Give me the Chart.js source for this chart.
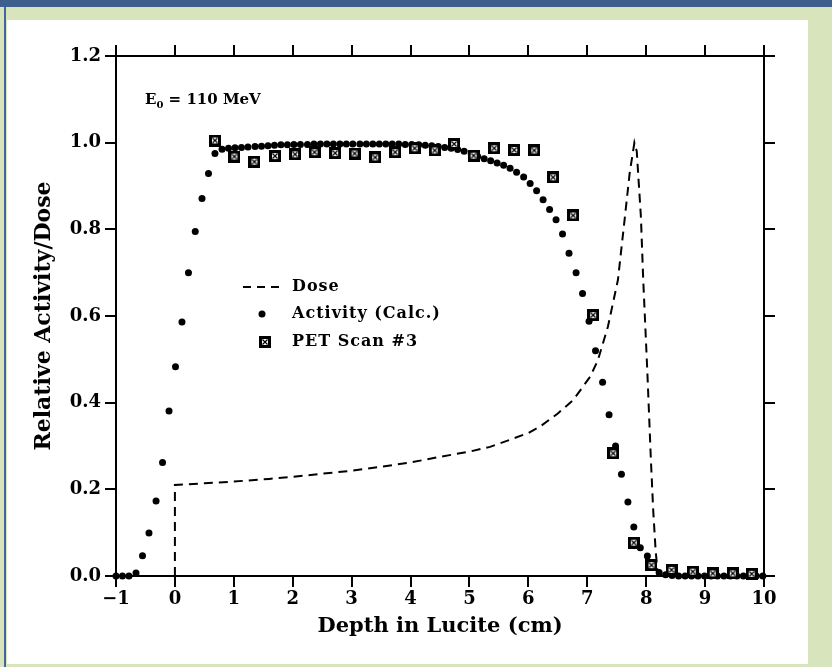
<!DOCTYPE html>
<html>
<head>
<meta charset="utf-8">
<script src="https://cdn.jsdelivr.net/npm/chart.js@4.4.0/dist/chart.umd.min.js"></script>
<style>
  html, body { margin: 0; padding: 0; }
  body { width: 832px; height: 667px; background: #d8e4bc; position: relative; overflow: hidden; }
  .topBar { position: absolute; left: 0; top: 0; width: 832px; height: 7px; background: #3d5f8e; }
  .sideLine { position: absolute; left: 4px; top: 7px; width: 2px; height: 660px; background: #4466a0; }
  .sheet { position: absolute; left: 7px; top: 20px; width: 801px; height: 644px; background: #fff; }
  #chart { position: absolute; left: 0; top: 0; }
</style>
</head>
<body>
<div class="topBar"></div>
<div class="sideLine"></div>
<div class="sheet"></div>
<canvas id="chart" width="832" height="667"></canvas>
<script>
// dose profile (dashed)
const doseDepth = [0, 0, 0.5, 1.0, 1.6, 2.0, 2.5, 3.0, 3.5, 4.0, 4.5, 5.0, 5.35, 5.7, 6.0, 6.2, 6.5, 6.76,
  7.05, 7.18, 7.35, 7.52, 7.64, 7.72, 7.80, 7.84, 7.91, 7.95, 8.02, 8.08, 8.12, 8.16, 8.20, 10];
const doseValue = [0, 0.21, 0.214, 0.218, 0.224, 0.229, 0.236, 0.243, 0.252, 0.262, 0.275, 0.287, 0.298, 0.315,
  0.330, 0.345, 0.375, 0.406, 0.460, 0.498, 0.575, 0.683, 0.830, 0.930, 1.0, 0.980, 0.830, 0.683, 0.470,
  0.268, 0.150, 0.060, 0, 0];

// calculated activity
const actDepth = [-1.00, -0.89, -0.78, -0.66, -0.55, -0.44, -0.32, -0.21, -0.10, 0.01, 0.12, 0.23, 0.345, 0.46,
  0.57, 0.68, 0.80, 0.91, 1.02, 1.13, 1.24, 1.36, 1.47, 1.58, 1.69, 1.80, 1.91, 2.02, 2.13, 2.25, 2.36, 2.47,
  2.58, 2.69, 2.80, 2.91, 3.02, 3.14, 3.25, 3.36, 3.47, 3.58, 3.69, 3.80, 3.91, 4.02, 4.14, 4.25, 4.36, 4.47,
  4.58, 4.69, 4.80, 4.91, 5.03, 5.14, 5.25, 5.36, 5.47, 5.58, 5.69, 5.80, 5.92, 6.03, 6.14, 6.25, 6.36, 6.47,
  6.58, 6.69, 6.81, 6.92, 7.03, 7.14, 7.26, 7.37, 7.48, 7.58, 7.69, 7.79, 7.90, 8.02, 8.12, 8.22, 8.33, 8.44,
  8.55, 8.66, 8.77, 8.88, 8.99, 9.10, 9.21, 9.32, 9.43, 9.54, 9.65, 9.76, 9.87, 9.98];
const actValue = [0, 0, 0, 0.007, 0.047, 0.099, 0.173, 0.262, 0.381, 0.483, 0.586, 0.700, 0.795, 0.871,
  0.929, 0.975, 0.985, 0.987, 0.988, 0.989, 0.990, 0.991, 0.992, 0.993, 0.994, 0.995, 0.995, 0.996, 0.996, 0.996,
  0.997, 0.997, 0.997, 0.997, 0.997, 0.997, 0.997, 0.997, 0.997, 0.997, 0.997, 0.997, 0.997, 0.997, 0.996,
  0.996, 0.995, 0.994, 0.993, 0.991, 0.989, 0.987, 0.984, 0.980, 0.974, 0.968, 0.963, 0.958, 0.953, 0.948,
  0.941, 0.932, 0.921, 0.906, 0.889, 0.868, 0.846, 0.822, 0.789, 0.745, 0.700, 0.652, 0.588, 0.520, 0.447,
  0.372, 0.300, 0.235, 0.171, 0.113, 0.065, 0.046, 0.022, 0.008, 0.003, 0.001, 0, 0, 0, 0, 0, 0, 0, 0, 0, 0,
  0, 0, 0, 0];

// PET scan #3 measurement
const petDepth = [0.68, 1.01, 1.35, 1.70, 2.04, 2.37, 2.72, 3.05, 3.40, 3.74, 4.07, 4.41, 4.74, 5.07, 5.42,
  5.76, 6.10, 6.42, 6.76, 7.10, 7.44, 7.79, 8.09, 8.43, 8.79, 9.13, 9.47, 9.79];
const petValue = [1.005, 0.968, 0.956, 0.969, 0.973, 0.978, 0.976, 0.975, 0.966, 0.978, 0.987, 0.982, 0.997,
  0.970, 0.987, 0.983, 0.982, 0.920, 0.832, 0.602, 0.283, 0.077, 0.025, 0.014, 0.010, 0.006, 0.006, 0.005];

const FONT = "'DejaVu Serif', 'Liberation Serif', serif";

function toPoints(xs, ys) {
  return xs.map((x, i) => ({ x, y: ys[i] }));
}

// boxed-cross marker for the PET points
function makePetMarker() {
  const c = document.createElement("canvas");
  c.width = 12;
  c.height = 12;
  const g = c.getContext("2d");
  g.fillStyle = "#000";
  g.fillRect(0, 0, 12, 12);
  g.fillStyle = "#fff";
  g.fillRect(3, 3, 6, 6);
  g.strokeStyle = "#000";
  g.lineWidth = 1.2;
  g.beginPath();
  g.moveTo(3.5, 3.5); g.lineTo(8.5, 8.5);
  g.moveTo(8.5, 3.5); g.lineTo(3.5, 8.5);
  g.stroke();
  return c;
}
const petMarker = makePetMarker();

function fixWidth(w) {
  return (scale) => { scale.width = w; };
}
function fixHeight(h) {
  return (scale) => { scale.height = h; };
}

const axisLine = { display: true, color: "#000", width: 2 };
const tickGrid = { drawOnChartArea: false, color: "#000", lineWidth: 2, tickLength: 11 };

// legend + beam energy label inside the frame
const paperNotes = {
  id: "paperNotes",
  afterDatasetsDraw(chart) {
    const { ctx, chartArea: a } = chart;
    ctx.save();
    ctx.fillStyle = "#000";
    ctx.strokeStyle = "#000";
    ctx.textBaseline = "middle";

    // E0 = 110 MeV
    let ex = a.left + 29, ey = a.top + 44;
    ctx.font = "bold 15px " + FONT;
    ctx.fillText("E", ex, ey);
    ex += ctx.measureText("E").width;
    ctx.font = "bold 10px " + FONT;
    ctx.fillText("0", ex, ey + 5);
    ex += ctx.measureText("0").width;
    ctx.font = "bold 15px " + FONT;
    ctx.fillText(" = 110 MeV", ex, ey);

    const lx = a.left + 127, ly = a.top + 231, textX = a.left + 176;
    ctx.font = "bold 16px " + FONT;
    ctx.letterSpacing = "1px";

    ctx.lineWidth = 2;
    ctx.setLineDash([8, 6]);
    ctx.beginPath();
    ctx.moveTo(lx, ly);
    ctx.lineTo(lx + 40, ly);
    ctx.stroke();
    ctx.setLineDash([]);
    ctx.fillText("Dose", textX, ly);

    ctx.beginPath();
    ctx.arc(lx + 19, ly + 27, 3.5, 0, Math.PI * 2);
    ctx.fill();
    ctx.fillText("Activity (Calc.)", textX, ly + 27);

    ctx.drawImage(petMarker, lx + 16, ly + 49);
    ctx.fillText("PET Scan #3", textX, ly + 55);
    ctx.restore();
  }
};

const ctx = document.querySelector("#chart");
const chart = new Chart(ctx, {
  type: "scatter",
  data: {
    datasets: [
      {
        label: "PET Scan #3",
        data: toPoints(petDepth, petValue),
        pointStyle: petMarker,
        pointRadius: 6,
        order: 0,
        clip: false,
      },
      {
        label: "Activity (Calc.)",
        data: toPoints(actDepth, actValue),
        pointStyle: "circle",
        pointRadius: 3.5,
        pointBorderWidth: 0,
        backgroundColor: "#000",
        order: 1,
        clip: false,
      },
      {
        label: "Dose",
        data: toPoints(doseDepth, doseValue),
        showLine: true,
        borderColor: "#000",
        borderWidth: 2,
        borderDash: [9, 6],
        pointRadius: 0,
        tension: 0,
        order: 2,
        clip: false,
      },
    ],
  },
  options: {
    responsive: false,
    animation: false,
    devicePixelRatio: 1,
    layout: { padding: { left: 27, right: 56, top: 45, bottom: 24 } },
    plugins: { legend: { display: false }, tooltip: { enabled: false } },
    scales: {
      x: {
        type: "linear",
        position: "bottom",
        min: -1,
        max: 10,
        border: axisLine,
        grid: tickGrid,
        afterFit: fixHeight(67),
        ticks: {
          stepSize: 1,
          color: "#000",
          padding: 2,
          font: { family: FONT, size: 18, weight: "bold" },
          callback: (v) => (v < 0 ? "\u2212" + Math.abs(v) : String(v)),
        },
        title: {
          display: true,
          text: "Depth in Lucite (cm)",
          color: "#000",
          font: { family: FONT, size: 21, weight: "bold" },
        },
      },
      x2: {
        type: "linear",
        position: "top",
        min: -1,
        max: 10,
        border: axisLine,
        grid: tickGrid,
        afterFit: fixHeight(11),
        ticks: { stepSize: 1, display: false },
      },
      y: {
        type: "linear",
        position: "left",
        min: 0,
        max: 1.2,
        border: axisLine,
        grid: tickGrid,
        afterFit: fixWidth(89),
        ticks: {
          stepSize: 0.2,
          color: "#000",
          padding: 4,
          font: { family: FONT, size: 18, weight: "bold" },
          callback: (v) => v.toFixed(1),
        },
        title: {
          display: true,
          text: "Relative Activity/Dose",
          color: "#000",
          font: { family: FONT, size: 22, weight: "bold" },
        },
      },
      y2: {
        type: "linear",
        position: "right",
        min: 0,
        max: 1.2,
        border: axisLine,
        grid: tickGrid,
        afterFit: fixWidth(12),
        ticks: { stepSize: 0.2, display: false },
      },
    },
  },
  plugins: [paperNotes],
});
</script>
</body>
</html>
